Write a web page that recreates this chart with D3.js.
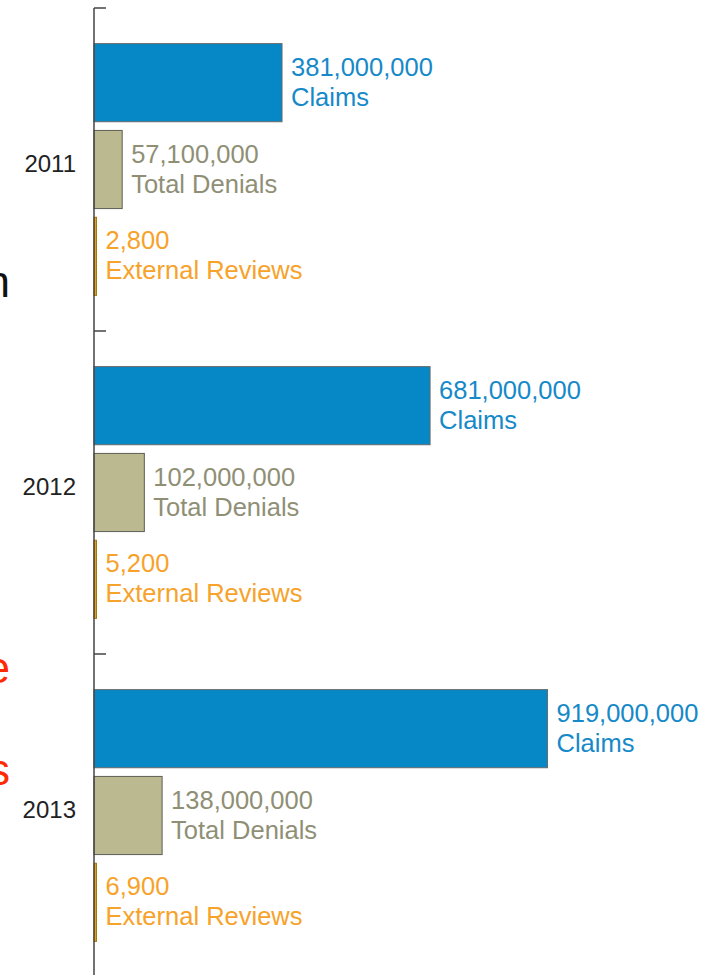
<!DOCTYPE html>
<html>
<head>
<meta charset="utf-8">
<script src="https://cdn.jsdelivr.net/npm/d3@7"></script>
<style>
  html, body { margin: 0; padding: 0; background: #fff; }
  svg { display: block; font-family: "Liberation Sans", Arial, Helvetica, sans-serif; }
</style>
</head>
<body>
<svg id="chart" width="721" height="975"></svg>
<script>
// ---- data ----
const years = ["2011", "2012", "2013"];
const seriesNames = ["Claims", "Total Denials", "External Reviews"];
const claims = [381000000, 681000000, 919000000];
const denials = [57100000, 102000000, 138000000];
const externalReviews = [2800, 5200, 6900];
const valueLabels = [
  ["381,000,000", "57,100,000", "2,800"],
  ["681,000,000", "102,000,000", "5,200"],
  ["919,000,000", "138,000,000", "6,900"]
];
// cut-off text fragments at the left edge of the picture
const leftFragments = [
  { text: "n", color: "#111111" },
  { text: "e", color: "#ff2a00" },
  { text: "s", color: "#ff2a00" }
];

const seriesValues = [claims, denials, externalReviews];
const fills = ["#0687c6", "#bab98f", "#e3a21a"];
const strokes = ["#6a6a6a", "#5e5e55", "#a77808"];
const textColors = ["#1689c8", "#8f8f76", "#f7a22a"];

const svg = d3.select("#chart");
const axisX = 94;

const y = d3.scaleBand().domain(years).range([8, 977]).paddingInner(0).paddingOuter(0);
const yInner = d3.scaleBand().domain(seriesNames).range([0, y.bandwidth()])
  .paddingInner(0.1).paddingOuter(0.41);
const x = d3.scaleLinear().domain([0, 1000000000]).range([axisX, axisX + 493.5]);

// bars + labels
years.forEach((yr, i) => {
  const g = svg.append("g").attr("transform", `translate(0,${y(yr)})`);
  seriesNames.forEach((s, j) => {
    const v = seriesValues[j][i];
    const w = Math.max(x(v) - x(0), 2.5);
    const by = yInner(s);
    const bh = yInner.bandwidth();
    g.append("rect")
      .attr("x", x(0))
      .attr("y", by)
      .attr("width", w)
      .attr("height", bh)
      .attr("fill", fills[j])
      .attr("stroke", strokes[j])
      .attr("stroke-width", 1);
    const cy = by + bh / 2;
    const t = g.append("text")
      .attr("x", x(0) + w + 9)
      .attr("fill", textColors[j])
      .attr("font-size", 25.5);
    t.append("tspan").attr("x", x(0) + w + 9).attr("y", cy - 7).text(valueLabels[i][j]);
    t.append("tspan").attr("x", x(0) + w + 9).attr("y", cy + 23).text(s);
  });
});

// axis with year labels
const axis = d3.axisLeft(y).tickSize(0).tickPadding(18);
const ag = svg.append("g").attr("transform", `translate(${axisX},0)`).call(axis);
ag.select(".domain").remove();
ag.selectAll("text")
  .attr("font-size", 24)
  .attr("fill", "#222")
  .attr("dy", "0.12em")
  .attr("font-family", "Liberation Sans, Arial, sans-serif");

// axis line
svg.append("line")
  .attr("x1", axisX).attr("x2", axisX)
  .attr("y1", y.range()[0]).attr("y2", 975)
  .attr("stroke", "#444").attr("stroke-width", 1.5);

// boundary ticks pointing right
const boundaries = years.map(yr => y(yr)).concat([y.range()[1]]);
svg.selectAll("line.tick-b").data(boundaries).enter().append("line")
  .attr("class", "tick-b")
  .attr("x1", axisX).attr("x2", axisX + 12)
  .attr("y1", d => d).attr("y2", d => d)
  .attr("stroke", "#444").attr("stroke-width", 1.5);

// cut-off fragments at left edge (as in the reference)
const fragY = [297, 683, 785];
svg.selectAll("text.frag").data(leftFragments).enter().append("text")
  .attr("class", "frag")
  .attr("x", 10)
  .attr("y", (d, i) => fragY[i])
  .attr("text-anchor", "end")
  .attr("font-size", 44)
  .attr("fill", d => d.color)
  .text(d => d.text);
</script>
</body>
</html>
